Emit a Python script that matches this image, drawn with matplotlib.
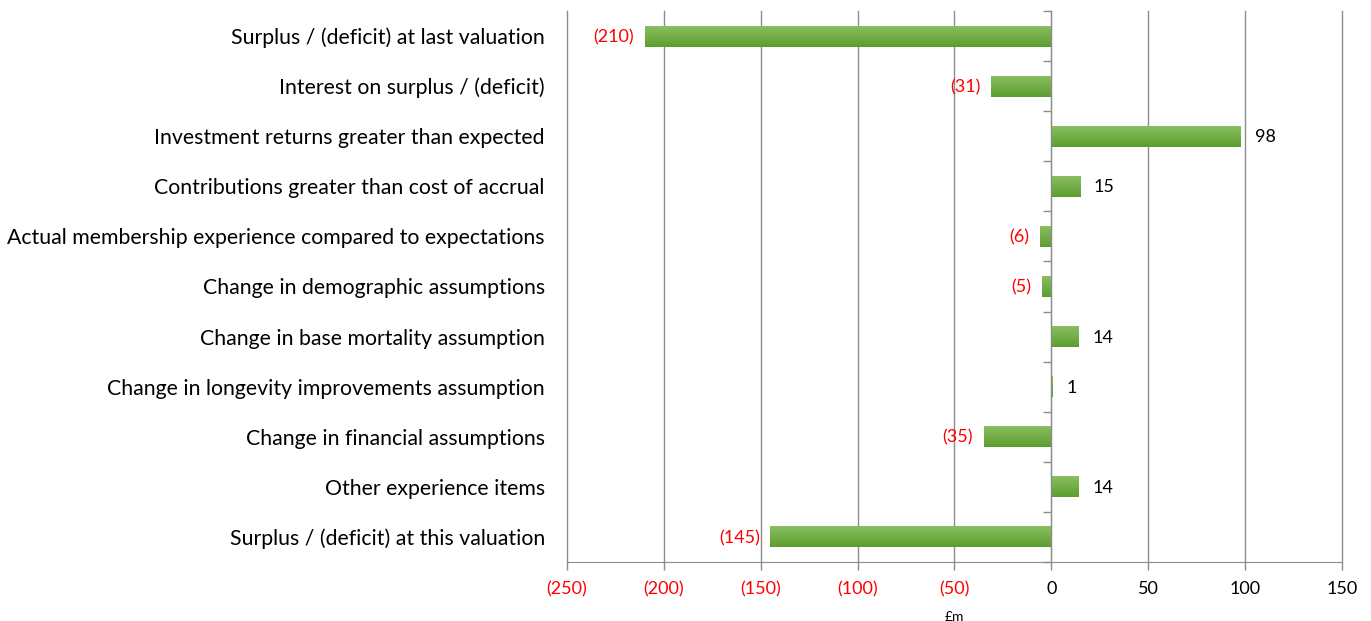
import numpy as np
import matplotlib.pyplot as plt
from matplotlib.colors import LinearSegmentedColormap

categories = [
    'Surplus / (deficit) at last valuation',
    'Interest on surplus / (deficit)',
    'Investment returns greater than expected',
    'Contributions greater than cost of accrual',
    'Actual membership experience compared to expectations',
    'Change in demographic assumptions',
    'Change in base mortality assumption',
    'Change in longevity improvements assumption',
    'Change in financial assumptions',
    'Other experience items',
    'Surplus / (deficit) at this valuation',
]
values = [-210, -31, 98, 15, -6, -5, 14, 1, -35, 14, -145]
xticks = [-250, -200, -150, -100, -50, 0, 50, 100, 150]


def fmt(v):
    return f'({abs(v)})' if v < 0 else f'{v}'


plt.rcParams['font.family'] = ['Lato', 'DejaVu Sans']
grey = '#8c8c8c'

fig = plt.figure(figsize=(13.71, 6.21), dpi=100)
ax = fig.add_axes([0.4136, 0.095, 0.5652, 0.8873])

y = np.arange(len(categories))
bars = ax.barh(y, values, height=0.42, color='#72ad45', zorder=3)

# vertical gradient inside each bar
cmap = LinearSegmentedColormap.from_list('g', ['#5c9d2f', '#8cc062'])
grad = np.linspace(0, 1, 64).reshape(-1, 1)
for b in bars:
    x0, y0, w, h = b.get_x(), b.get_y(), b.get_width(), b.get_height()
    im = ax.imshow(grad, cmap=cmap, aspect='auto', origin='lower',
                   extent=(min(x0, x0 + w), max(x0, x0 + w), y0 + h, y0), zorder=4)
    im.set_clip_path(b)

for yi, v in zip(y, values):
    if v < 0:
        ax.text(v - 5.5, yi + 0.02, fmt(v), ha='right', va='center', color='red', fontsize=13)
    else:
        ax.text(v + 7, yi + 0.02, fmt(v), ha='left', va='center', color='black', fontsize=13)

ax.set_xlim(-250, 150)
ax.set_ylim(len(categories) - 0.5, -0.5)
ax.set_xticks(xticks)
ax.set_xticklabels([fmt(t) for t in xticks], fontsize=13)
for lab, t in zip(ax.get_xticklabels(), xticks):
    lab.set_color('red' if t < 0 else 'black')
ax.set_xlabel('£m', fontsize=10, labelpad=10)
ax.grid(axis='x', color=grey, lw=1, zorder=0)
for gl in ax.get_xgridlines():
    gl.set_clip_on(False)
ax.tick_params(axis='x', length=6, color=grey, width=1, pad=8)

ax.set_yticks(y)
ax.set_yticklabels(categories, fontsize=15.3)
ax.tick_params(axis='y', length=0, pad=16)

for s in ['top', 'right', 'left']:
    ax.spines[s].set_visible(False)
ax.spines['bottom'].set_color(grey)

# category axis drawn at zero with ticks between categories
ax2 = ax.twinx()
ax2.set_ylim(ax.get_ylim())
for s in ['top', 'left', 'bottom']:
    ax2.spines[s].set_visible(False)
ax2.spines['right'].set_position(('data', 0))
ax2.spines['right'].set_color(grey)
ax2.set_yticks(np.arange(-0.5, len(categories), 1.0))
ax2.set_yticklabels([])
ax2.tick_params(axis='y', direction='in', length=6, color=grey, width=1)

fig.savefig('out.png', dpi=100)
